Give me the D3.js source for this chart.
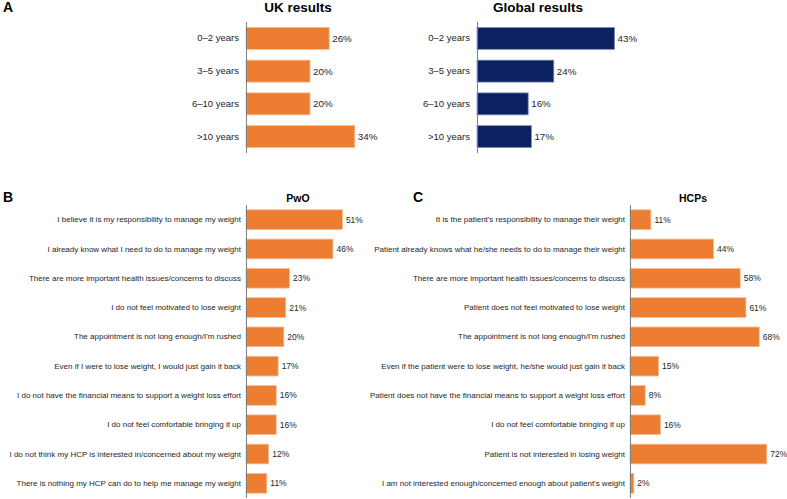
<!DOCTYPE html>
<html>
<head>
<meta charset="utf-8">
<script src="https://cdn.jsdelivr.net/npm/d3@7"></script>
<style>
  html, body { margin: 0; padding: 0; background: #fff; }
  svg { display: block; font-family: "Liberation Sans", Arial, sans-serif; }
</style>
</head>
<body>
<svg id="chart" width="787" height="499"></svg>
<script>
// ---- Data ----
const yearCategories = ["0–2 years", "3–5 years", "6–10 years", ">10 years"];
const ukValues = [26, 20, 20, 34];
const globalValues = [43, 24, 16, 17];

const pwoCategories = [
  "I believe it is my responsibility to manage my weight",
  "I already know what I need to do to manage my weight",
  "There are more important health issues/concerns to discuss",
  "I do not feel motivated to lose weight",
  "The appointment is not long enough/I'm rushed",
  "Even if I were to lose weight, I would just gain it back",
  "I do not have the financial means to support a weight loss effort",
  "I do not feel comfortable bringing it up",
  "I do not think my HCP is interested in/concerned about my weight",
  "There is nothing my HCP can do to help me manage my weight"
];
const pwoValues = [51, 46, 23, 21, 20, 17, 16, 16, 12, 11];

const hcpCategories = [
  "It is the patient's responsibility to manage their weight",
  "Patient already knows what he/she needs to do to manage their weight",
  "There are more important health issues/concerns to discuss",
  "Patient does not feel motivated to lose weight",
  "The appointment is not long enough/I'm rushed",
  "Even if the patient were to lose weight, he/she would just gain it back",
  "Patient does not have the financial means to support a weight loss effort",
  "I do not feel comfortable bringing it up",
  "Patient is not interested in losing weight",
  "I am not interested enough/concerned enough about patient's weight"
];
const hcpValues = [11, 44, 58, 61, 68, 15, 8, 16, 72, 2];

const ORANGE = "#ED7D31";
const NAVY = "#0B2160";

const svg = d3.select("#chart");

function panel(o) {
  const g = svg.append("g");
  const x = d3.scaleLinear().domain([0, 100]).range([o.axisX, o.axisX + o.pxPerPct * 100]);
  const y = d3.scaleBand().domain(o.categories).range([o.top, o.bottom]).paddingInner(0.33).paddingOuter(0.165);
  const data = o.categories.map((c, i) => ({ c, v: o.values[i] }));

  g.selectAll("rect").data(data).enter().append("rect")
    .attr("x", x(0))
    .attr("y", d => y(d.c))
    .attr("width", d => x(d.v) - x(0))
    .attr("height", y.bandwidth())
    .attr("fill", o.color)
    .attr("stroke", o.stroke)
    .attr("stroke-width", 0.8);

  const axis = d3.axisLeft(y).tickSize(0).tickPadding(o.labelGap);
  const ag = g.append("g").attr("transform", `translate(${o.axisX},0)`).call(axis);
  ag.select(".domain").attr("stroke", "#7f7f7f").attr("stroke-width", 1)
    .attr("d", `M0.5,${o.top}V${o.bottom}`);
  ag.selectAll("text").attr("font-size", o.labelSize).attr("fill", "#262626")
    .attr("font-family", "'Liberation Sans', Arial, sans-serif");

  g.selectAll("text.val").data(data).enter().append("text")
    .attr("class", "val")
    .attr("x", d => x(d.v) + o.valGap)
    .attr("y", d => y(d.c) + y.bandwidth() / 2)
    .attr("dy", "0.35em")
    .attr("font-size", o.valSize)
    .attr("fill", "#262626")
    .text(d => d.v + "%");

  g.append("text")
    .attr("x", o.titleX).attr("y", o.titleY)
    .attr("text-anchor", "middle")
    .attr("font-weight", "bold")
    .attr("font-size", o.titleSize)
    .attr("fill", "#000")
    .text(o.title);
}

// Panel letters
[["A", 3, 12], ["B", 3, 202], ["C", 413, 202]].forEach(([t, lx, ly]) => {
  svg.append("text").attr("x", lx).attr("y", ly)
    .attr("font-weight", "bold").attr("font-size", 14).attr("fill", "#000").text(t);
});

panel({ categories: yearCategories, values: ukValues, axisX: 246, pxPerPct: 3.2, top: 22, bottom: 153,
  color: ORANGE, stroke: "#f6b990", labelGap: 7, labelSize: 9.5, valSize: 9.8, valGap: 3,
  title: "UK results", titleX: 298, titleY: 12, titleSize: 13.5 });
panel({ categories: yearCategories, values: globalValues, axisX: 477, pxPerPct: 3.2, top: 22, bottom: 153,
  color: NAVY, stroke: "#7f8fb8", labelGap: 7, labelSize: 9.5, valSize: 9.8, valGap: 3,
  title: "Global results", titleX: 538, titleY: 12, titleSize: 13.5 });
panel({ categories: pwoCategories, values: pwoValues, axisX: 246, pxPerPct: 1.89, top: 205, bottom: 498,
  color: ORANGE, stroke: "#f6b990", labelGap: 5, labelSize: 8, valSize: 8.5, valGap: 3.5,
  title: "PwO", titleX: 298, titleY: 202, titleSize: 10.5 });
panel({ categories: hcpCategories, values: hcpValues, axisX: 630, pxPerPct: 1.9, top: 205, bottom: 498,
  color: ORANGE, stroke: "#f6b990", labelGap: 5, labelSize: 8, valSize: 8.5, valGap: 3.5,
  title: "HCPs", titleX: 693, titleY: 202, titleSize: 10.5 });
</script>
</body>
</html>
